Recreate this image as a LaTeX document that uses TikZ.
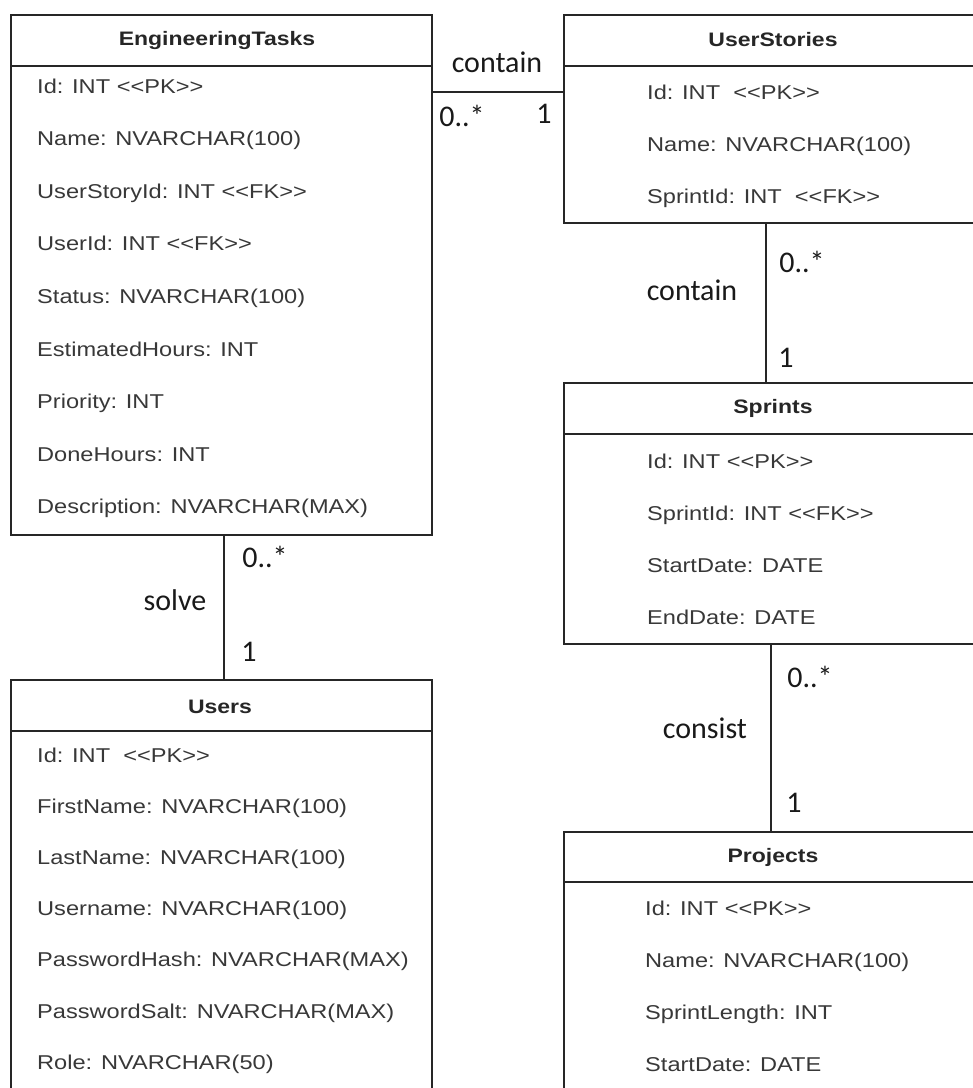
\documentclass[tikz,border=0pt]{standalone}
\usepackage{fontspec}
\setmainfont{Liberation Sans}[FakeStretch=1.18]
\newfontfamily\etiquettefont{Carlito}
\newcommand{\pk}{<\kern0pt<PK>\kern0pt>}
\newcommand{\fk}{<\kern0pt<FK>\kern0pt>}
\begin{document}
\begin{tikzpicture}[x=1pt,y=-1pt]
	% Styles (MODIFIABLES)
	\tikzstyle{table}=[draw=black!85,line width=1.6pt,rectangle,inner sep=0pt,anchor=north west,minimum width=\LargeurTable pt]
	\tikzstyle{separateur}=[-,line width=1.6pt,black!85]
	\tikzstyle{titre}=[inner sep=0pt,font=\fontsize{19.5}{22}\selectfont\bfseries,text=black!85]
	\tikzstyle{attribut}=[anchor=west,inner sep=0pt,text height=14pt,text depth=0pt,font=\fontsize{20}{23}\selectfont,text=black!78]
	\tikzstyle{lien}=[-,line width=1.5pt,black!85]
	\tikzstyle{etiquette}=[inner sep=0pt,text height=14pt,text depth=0pt,font=\etiquettefont\fontsize{30}{34}\selectfont,text=black!90]
	\tikzstyle{multiplicite}=[inner sep=0pt,text height=19pt,text depth=0pt,font=\etiquettefont\fontsize{30}{34}\selectfont,text=black!90]
	% Dimensions (MODIFIABLES)
	\def\LargeurTable{421}
	\def\ColonneG{10}
	\def\ColonneD{563}
	\useasboundingbox (0,0) rectangle (973,1088);
	\clip (0,0) rectangle (973,1088);
	% Tables
	\node[table,minimum height=520pt] (ET) at (\ColonneG,14) {};
	\node[table,minimum height=500pt] (UT) at (\ColonneG,679) {};
	\node[table,minimum height=208pt] (US) at (\ColonneD,14) {};
	\node[table,minimum height=261pt] (SP) at (\ColonneD,382) {};
	\node[table,minimum height=300pt] (PR) at (\ColonneD,831) {};
	\draw[separateur] (ET.west |- 0,66) -- (ET.east |- 0,66);
	\draw[separateur] (UT.west |- 0,731) -- (UT.east |- 0,731);
	\draw[separateur] (US.west |- 0,66) -- (US.east |- 0,66);
	\draw[separateur] (SP.west |- 0,434) -- (SP.east |- 0,434);
	\draw[separateur] (PR.west |- 0,882) -- (PR.east |- 0,882);
	% Titres
	\node[titre] (ETtitre) at (217,40) {EngineeringTasks};
	\node[titre] (UTtitre) at (220,707) {Users};
	\node[titre] (UStitre) at (773,40) {UserStories};
	\node[titre] (SPtitre) at (773,408) {Sprints};
	\node[titre] (PRtitre) at (773,857) {Projects};
	% Champs
	\foreach \champ [count=\i from 0] in {Id: INT \pk,Name: NVARCHAR(100),UserStoryId: INT \fk,UserId: INT \fk,Status: NVARCHAR(100),EstimatedHours: INT,Priority: INT,DoneHours: INT,Description: NVARCHAR(MAX)}
		\node[attribut] (et\i) at (37,{86+52.6*\i}) {\champ};
	\foreach \champ [count=\i from 0] in {Id: INT\ \ \pk,FirstName: NVARCHAR(100),LastName: NVARCHAR(100),Username: NVARCHAR(100),PasswordHash: NVARCHAR(MAX),PasswordSalt: NVARCHAR(MAX),Role: NVARCHAR(50)}
		\node[attribut] (ut\i) at (37,{755+51.2*\i}) {\champ};
	\foreach \champ [count=\i from 0] in {Id: INT\ \ \pk,Name: NVARCHAR(100),SprintId: INT\ \ \fk}
		\node[attribut] (us\i) at (647,{92+52*\i}) {\champ};
	\foreach \champ [count=\i from 0] in {Id: INT \pk,SprintId: INT \fk,StartDate: DATE,EndDate: DATE}
		\node[attribut] (sp\i) at (647,{461+52*\i}) {\champ};
	\foreach \champ [count=\i from 0] in {Id: INT \pk,Name: NVARCHAR(100),SprintLength: INT,StartDate: DATE}
		\node[attribut] (pr\i) at (645,{908+52*\i}) {\champ};
	% Arcs (MODIFIABLES : Styles)
	\draw[lien] (ET.east |- us0) -- (US.west |- us0);
	\draw[lien] (US.south -| 766,0) -- (SP.north -| 766,0);
	\draw[lien] (ET.south -| 224,0) -- (UT.north -| 224,0);
	\draw[lien] (SP.south -| 771,0) -- (PR.north -| 771,0);
	% Etiquettes
	\node[etiquette] (r1) at (497,65) {contain};
	\node[multiplicite] (m1a) at (462,117) {0..*};
	\node[multiplicite] (m1b) at (544,114) {1};
	\node[etiquette] (r2) at (692,293) {contain};
	\node[multiplicite] (m2a) at (802,263) {0..*};
	\node[multiplicite] (m2b) at (786,358) {1};
	\node[etiquette] (r3) at (175,603) {solve};
	\node[multiplicite] (m3a) at (265,558) {0..*};
	\node[multiplicite] (m3b) at (249,652) {1};
	\node[etiquette] (r4) at (705,731) {consist};
	\node[multiplicite] (m4a) at (810,678) {0..*};
	\node[multiplicite] (m4b) at (794,803) {1};
\end{tikzpicture}
\end{document}
